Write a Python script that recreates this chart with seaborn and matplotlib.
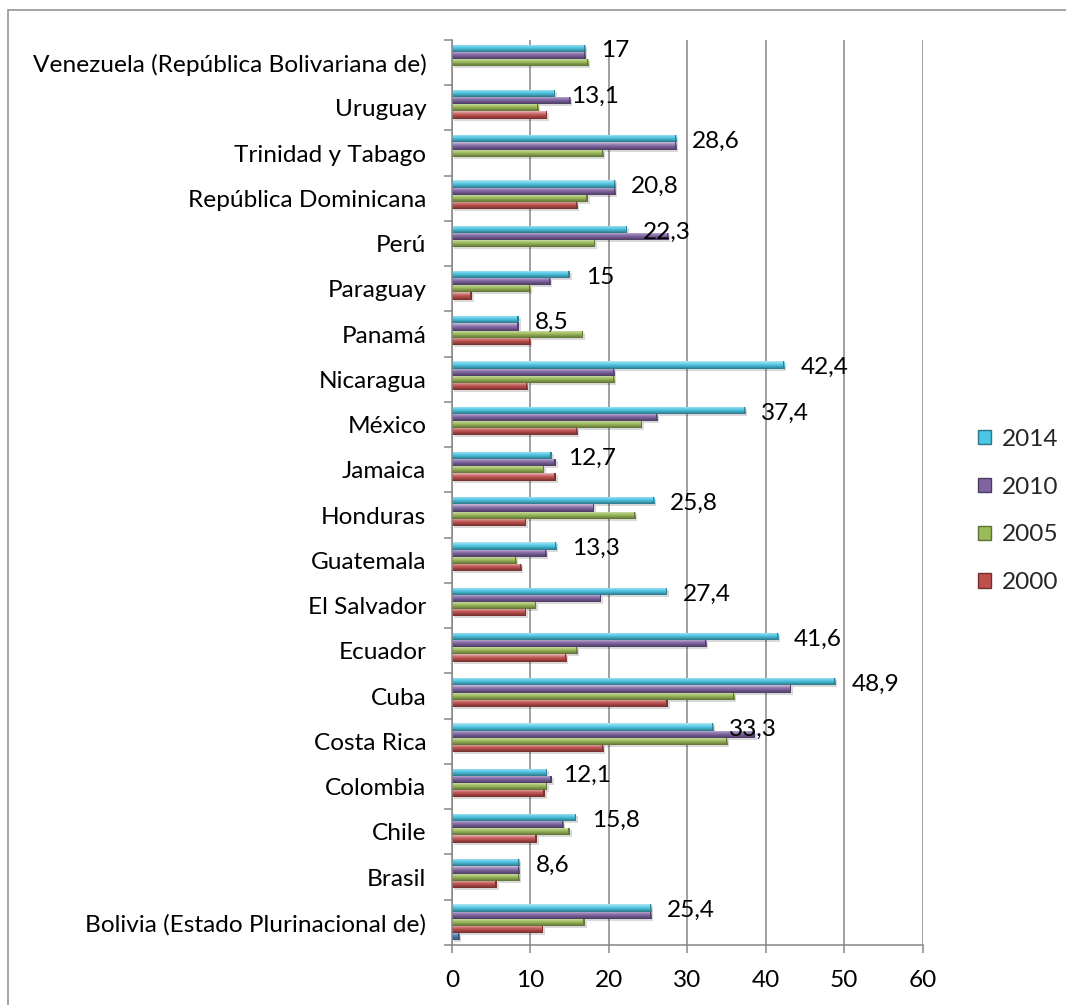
import numpy as np
import pandas as pd
import seaborn as sns
import matplotlib.pyplot as plt
from matplotlib.patches import Rectangle, Patch
from matplotlib.colors import to_rgb

# Countries, listed top to bottom as they appear on the chart
paises = [
    "Venezuela (República Bolivariana de)", "Uruguay", "Trinidad y Tabago",
    "República Dominicana", "Perú", "Paraguay", "Panamá", "Nicaragua",
    "México", "Jamaica", "Honduras", "Guatemala", "El Salvador", "Ecuador",
    "Cuba", "Costa Rica", "Colombia", "Chile", "Brasil",
    "Bolivia (Estado Plurinacional de)",
]

v2014 = [17, 13.1, 28.6, 20.8, 22.3, 15, 8.5, 42.4, 37.4, 12.7,
         25.8, 13.3, 27.4, 41.6, 48.9, 33.3, 12.1, 15.8, 8.6, 25.4]
v2010 = [17, 15.1, 28.6, 20.8, 27.6, 12.5, 8.5, 20.7, 26.2, 13.2,
         18.1, 12.0, 19.0, 32.4, 43.2, 38.6, 12.7, 14.2, 8.6, 25.4]
v2005 = [17.4, 11.0, 19.3, 17.3, 18.2, 10.0, 16.7, 20.7, 24.2, 11.7,
         23.4, 8.2, 10.7, 16.0, 36.0, 35.1, 12.1, 15.0, 8.6, 16.9]
v2000 = [0, 12.1, 0, 16.0, 0, 2.5, 10.0, 9.6, 16.0, 13.2,
         9.4, 8.8, 9.4, 14.6, 27.5, 19.3, 11.8, 10.8, 5.7, 11.6]
serie5 = [0] * 19 + [0.9]

series = ["2014", "2010", "2005", "2000", "Serie5"]
valores = [v2014, v2010, v2005, v2000, serie5]
ticks_x = [0, 10, 20, 30, 40, 50, 60]

colores = {
    "2014": "#4BC6E4",
    "2010": "#8064A2",
    "2005": "#9BBB59",
    "2000": "#C0504D",
    "Serie5": "#4F81BD",
}

df = pd.DataFrame({
    "pais": np.tile(paises, len(series)),
    "serie": np.repeat(series, len(paises)),
    "valor": np.concatenate(valores),
})

sns.set_theme(style="white")
plt.rcParams["font.family"] = ["Lato", "DejaVu Sans"]
FS = 17.6

fig = plt.figure(figsize=(10.66, 10.05), dpi=100)
ax = fig.add_axes([452 / 1066, 1 - 945 / 1005, (922.5 - 452) / 1066, (945 - 40) / 1005])

sns.barplot(data=df, x="valor", y="pais", hue="serie", order=paises,
            hue_order=series, palette=colores, orient="h", width=0.8,
            legend=False, ax=ax, zorder=2, linewidth=0)


def mix(c, other, t):
    c = np.array(to_rgb(c))
    return (1 - t) * c + t * np.array(other)


def gradient(c, n=40):
    stops = [(0.0, mix(c, (1, 1, 1), 0.6)),
             (0.22, mix(c, (1, 1, 1), 0.3)),
             (0.45, mix(c, (1, 1, 1), 0.05)),
             (0.72, mix(c, (0, 0, 0), 0.18)),
             (1.0, mix(c, (0, 0, 0), 0.4))]
    pos = np.array([s[0] for s in stops])
    cols = np.array([s[1] for s in stops])
    t = np.linspace(0, 1, n)
    arr = np.stack([np.interp(t, pos, cols[:, k]) for k in range(3)], axis=1)
    return arr[:, None, :]


px_x = 60 / (922.5 - 452)      # data units per pixel, horizontally
px_y = len(paises) / (945 - 40)  # category units per pixel, vertically

# Shaded, slightly raised look for every bar
for serie, cont in zip(series, ax.containers):
    g = gradient(colores[serie])
    for bar in cont:
        w = bar.get_width()
        if w <= 0:
            continue
        y0 = bar.get_y()
        h = bar.get_height()
        ax.add_patch(Rectangle((2 * px_x, y0 + 2 * px_y), w, h,
                               facecolor="#000000", alpha=0.15,
                               linewidth=0, zorder=1.5))
        im = ax.imshow(g, extent=(0, w, y0 + h, y0), origin="upper",
                       aspect="auto", zorder=2.1, interpolation="bilinear")
        im.set_clip_path(bar)
        ax.add_patch(Rectangle((w - 1.2 * px_x, y0), 1.2 * px_x, h,
                               facecolor=mix(colores[serie], (0, 0, 0), 0.35),
                               linewidth=0, zorder=2.2))

# Value labels on the 2014 series
for bar in ax.containers[0]:
    v = bar.get_width()
    txt = f"{v:g}".replace(".", ",")
    ax.text(v + 16 * px_x, bar.get_y() + bar.get_height() / 2 + 2.7 * px_y,
            txt, ha="left", va="center", fontsize=FS, color="#000000",
            zorder=4)

ax.set_xlim(0, 60)
ax.set_ylim(len(paises) - 0.5, -0.5)
ax.set_xticks(ticks_x)
ax.set_xticklabels([str(t) for t in ticks_x], fontsize=FS)
ax.set_yticks(range(len(paises)))
ax.set_yticklabels(paises, fontsize=FS)
ax.set_yticks(np.arange(-0.5, len(paises), 1), minor=True)
ax.set_xlabel("")
ax.set_ylabel("")

grid_c = "#868686"
ax.set_axisbelow(True)
ax.grid(axis="x", color=grid_c, linewidth=1.1, zorder=0)
ax.grid(axis="y", visible=False)
for side in ["top", "right"]:
    ax.spines[side].set_visible(False)
for side in ["left", "bottom"]:
    ax.spines[side].set_color(grid_c)
    ax.spines[side].set_linewidth(1.1)
    ax.spines[side].set_zorder(3)

ax.tick_params(axis="y", which="major", length=0, pad=18.5, colors="#000000")
ax.tick_params(axis="y", which="minor", length=5.8, width=1.1,
               color=grid_c, direction="out", left=True)
ax.tick_params(axis="x", which="major", length=5.8, width=1.1,
               color=grid_c, direction="out", bottom=True, pad=12.5,
               labelcolor="#000000")

# Legend for the four years
handles = [Patch(facecolor=colores[s], edgecolor=mix(colores[s], (0, 0, 0), 0.4),
                 linewidth=1, label=s) for s in series[:4]]
fig.legend(handles=handles, loc="center left",
           bbox_to_anchor=(978 / 1066, 1 - 511 / 1005), frameon=False,
           fontsize=FS, handlelength=0.53, handleheight=0.53,
           handletextpad=0.45, labelspacing=1.1, borderpad=0,
           borderaxespad=0)

# Outer chart frame
fig.patches.append(Rectangle((8 / 1066, -0.1), 1.2, 1.1 - 10 / 1005,
                             transform=fig.transFigure, fill=False,
                             edgecolor="#8C8C8C", linewidth=1.1))

fig.savefig("out.png", dpi=100)
